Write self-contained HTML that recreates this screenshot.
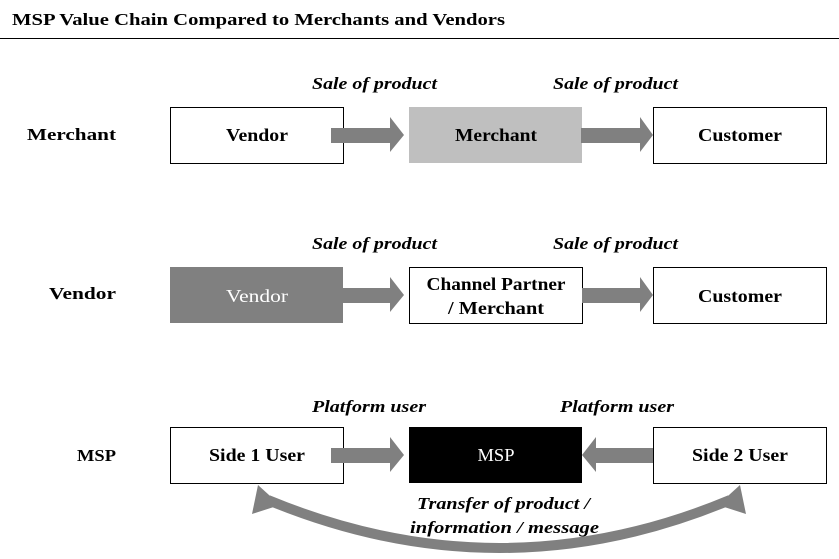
<!DOCTYPE html>
<html><head><meta charset="utf-8"><style>
html,body{margin:0;padding:0;background:#fff;}
svg{display:block;}
text{font-family:"Liberation Serif",serif;font-weight:bold;}
.i{font-style:italic;}
.n{font-weight:normal;}
</style></head><body>
<svg width="839" height="559" viewBox="0 0 839 559" xmlns="http://www.w3.org/2000/svg">
<text x="12" y="25" font-size="17" textLength="493" lengthAdjust="spacingAndGlyphs">MSP Value Chain Compared to Merchants and Vendors</text>
<line x1="0" y1="38.5" x2="839" y2="38.5" stroke="#000" stroke-width="1"/>

<g font-size="17" text-anchor="end">
<text x="116" y="140" textLength="89" lengthAdjust="spacingAndGlyphs">Merchant</text>
<text x="116" y="299" textLength="67" lengthAdjust="spacingAndGlyphs">Vendor</text>
<text x="116" y="461" textLength="39" lengthAdjust="spacingAndGlyphs">MSP</text>
</g>

<g font-size="17">
<text class="i" x="312" y="89" textLength="125" lengthAdjust="spacingAndGlyphs">Sale of product</text>
<text class="i" x="553" y="89" textLength="125" lengthAdjust="spacingAndGlyphs">Sale of product</text>
<text class="i" x="312" y="249" textLength="125" lengthAdjust="spacingAndGlyphs">Sale of product</text>
<text class="i" x="553" y="249" textLength="125" lengthAdjust="spacingAndGlyphs">Sale of product</text>
<text class="i" x="312" y="412" textLength="114" lengthAdjust="spacingAndGlyphs">Platform user</text>
<text class="i" x="560" y="412" textLength="114" lengthAdjust="spacingAndGlyphs">Platform user</text>
<text class="i" x="417" y="509" textLength="173" lengthAdjust="spacingAndGlyphs">Transfer of product /</text>
<text class="i" x="410" y="533" textLength="189" lengthAdjust="spacingAndGlyphs">information / message</text>
</g>

<g stroke="#000" stroke-width="1">
<rect x="170.5" y="107.5" width="173" height="56" fill="#fff"/>
<rect x="653.5" y="107.5" width="173" height="56" fill="#fff"/>
<rect x="409.5" y="267.5" width="173" height="56" fill="#fff"/>
<rect x="653.5" y="267.5" width="173" height="56" fill="#fff"/>
<rect x="170.5" y="427.5" width="173" height="56" fill="#fff"/>
<rect x="653.5" y="427.5" width="173" height="56" fill="#fff"/>
</g>
<rect x="409" y="107" width="173" height="56" fill="#bfbfbf"/>
<rect x="170" y="267" width="173" height="56" fill="#808080"/>
<rect x="409" y="427" width="173" height="56" fill="#000"/>

<g fill="#808080">
<polygon points="331,128 390,128 390,117 404,135 390,152 390,143 331,143"/>
<polygon points="581,128 640,128 640,117 653,135 640,152 640,143 581,143"/>
<polygon points="343,288 390,288 390,277 404,295 390,312 390,303 343,303"/>
<polygon points="582,288 640,288 640,277 653,295 640,312 640,303 582,303"/>
<polygon points="331,448 390,448 390,437 404,455 390,472 390,463 331,463"/>
<polygon points="653,448 596,448 596,437 582,455 596,472 596,463 653,463"/>
</g>
<path d="M268,500 Q500,596 730,500" fill="none" stroke="#808080" stroke-width="10"/>
<polygon points="258,485 252,514 280,505" fill="#808080"/>
<polygon points="740,485 746,514 718,505" fill="#808080"/>

<g font-size="18" text-anchor="middle">
<text x="257" y="141" textLength="62" lengthAdjust="spacingAndGlyphs">Vendor</text>
<text x="496" y="141" textLength="82" lengthAdjust="spacingAndGlyphs">Merchant</text>
<text x="740" y="141" textLength="84" lengthAdjust="spacingAndGlyphs">Customer</text>
<text class="n" x="257" y="302" fill="#fff" textLength="62" lengthAdjust="spacingAndGlyphs">Vendor</text>
<text x="496" y="290" textLength="139" lengthAdjust="spacingAndGlyphs">Channel Partner</text>
<text x="496" y="314" textLength="96" lengthAdjust="spacingAndGlyphs">/ Merchant</text>
<text x="740" y="302" textLength="84" lengthAdjust="spacingAndGlyphs">Customer</text>
<text x="257" y="461" textLength="96" lengthAdjust="spacingAndGlyphs">Side 1 User</text>
<text class="n" x="496" y="461" fill="#fff" textLength="37" lengthAdjust="spacingAndGlyphs">MSP</text>
<text x="740" y="461" textLength="96" lengthAdjust="spacingAndGlyphs">Side 2 User</text>
</g>
</svg>
</body></html>
